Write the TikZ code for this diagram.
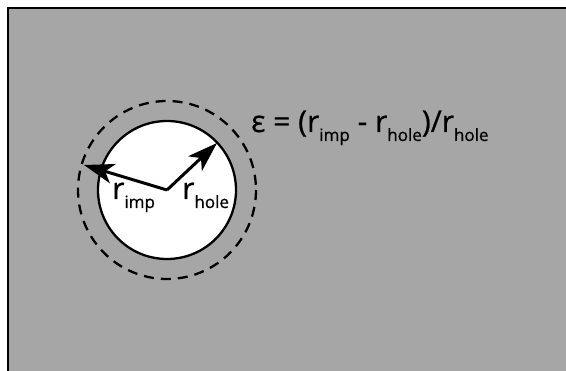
\documentclass[tikz,border=0pt]{standalone}
\usepackage{fontspec}
\setmainfont{Open Sans}
\newfontfamily\labelfont{Open Sans}[FakeBold=0.7]
\usetikzlibrary{arrows.meta}

\definecolor{panelgray}{RGB}{166,166,166}
\newcommand{\lowsub}[1]{\raisebox{-9pt}{\fontsize{17}{17}\selectfont #1}}

\begin{document}
\begin{tikzpicture}[x=1pt, y=-1pt, >={Stealth[length=30pt, width=20pt, inset=8pt]},
    label text/.style={anchor=base west, inner sep=0, font=\labelfont\fontsize{30}{30}\selectfont}]
  \useasboundingbox (0,0) rectangle (566,371);

  % gray panel with the border on top and left
  \fill[panelgray] (8,8) rectangle (570,375);
  \draw[line width=2.5pt] (8,375) -- (8,8) -- (570,8);

  % hole and the impurity radius
  \coordinate (ctr) at (167,190);
  \draw[fill=white, line width=2.3pt] (ctr) circle (69);
  \draw[dash pattern=on 10pt off 7pt, line width=2.3pt] (ctr) circle (89);

  % radii
  \coordinate (imptip) at (84,165);
  \coordinate (holetip) at (217,143);
  \draw[->, line width=3pt] (ctr) -- (imptip);
  \draw[->, line width=3pt] (ctr) -- (holetip);

  % labels
  \node[label text] (r_imp) at (112,199) {r\lowsub{imp}};
  \node[label text] (r_hole) at (182,199) {r\lowsub{hole}};
  \node[label text] (strain) at (251,132) {ε = (r\lowsub{imp} - r\lowsub{hole})/r\lowsub{hole}};
\end{tikzpicture}
\end{document}
